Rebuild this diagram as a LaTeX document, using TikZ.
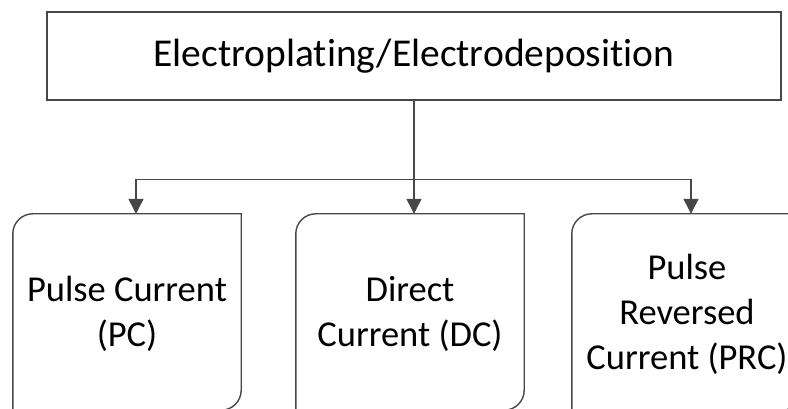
\documentclass[tikz,border=0pt]{standalone}
\usepackage{fontspec}
\setmainfont[Ligatures=NoCommon]{Carlito}
\usetikzlibrary{arrows.meta,calc}
\tikzset{
  lbl/.style={font=\fontsize{36.5}{45}\selectfont, align=center, text=black},
  headlbl/.style={font=\fontsize{39.5}{45}\selectfont, align=center, text=black},
  outline/.style={draw=black!72, line width=1.4pt},
  link/.style={draw=black!72, line width=1.3pt},
  tip/.style={link, -{Triangle[length=15pt,width=15pt]}},
  slot/.style={minimum width=228pt, minimum height=196pt, inner sep=0pt, draw=none},
}
\begin{document}
\begin{tikzpicture}[x=1pt,y=1pt]
  \useasboundingbox (0,0) rectangle (788,-409);

  % heading box
  \node[outline, headlbl, minimum width=734pt, minimum height=88pt, inner sep=0pt]
    (top) at (414,-56) {Electroplating/Electrodeposition};

  % the three method boxes (drawn below with two rounded corners)
  \node[slot] (b1) at (127,-312) {};
  \node[slot] (b2) at (410,-312) {};
  \node[slot, minimum width=230pt] (b3) at (687,-312) {};

  \foreach \b in {b1,b2,b3}{
    \draw[outline] (\b.south west) -- ([yshift=-20pt]\b.north west)
      arc[start angle=180, end angle=90, radius=20pt]
      -- (\b.north east) -- ([yshift=20pt]\b.south east)
      arc[start angle=0, end angle=-90, radius=20pt] -- cycle;
  }

  \node[lbl] (t1) at ([yshift=-2pt]b1) {Pulse Current\\(PC)};
  \node[lbl] (t2) at ([yshift=-2pt]b2) {Direct\\Current (DC)};
  \node[lbl] (t3) at ([yshift=-2pt]b3) {Pulse\\Reversed\\Current (PRC)};

  % connectors
  \coordinate (j) at ($(top.south)+(0,-79)$);
  \draw[link] (top.south) -- (j);
  \draw[tip] (j) -| ([xshift=9pt]b1.north);
  \draw[tip] (j) -- ([xshift=4pt]b2.north);
  \draw[tip] (j) -| ([xshift=4pt]b3.north);
\end{tikzpicture}
\end{document}
